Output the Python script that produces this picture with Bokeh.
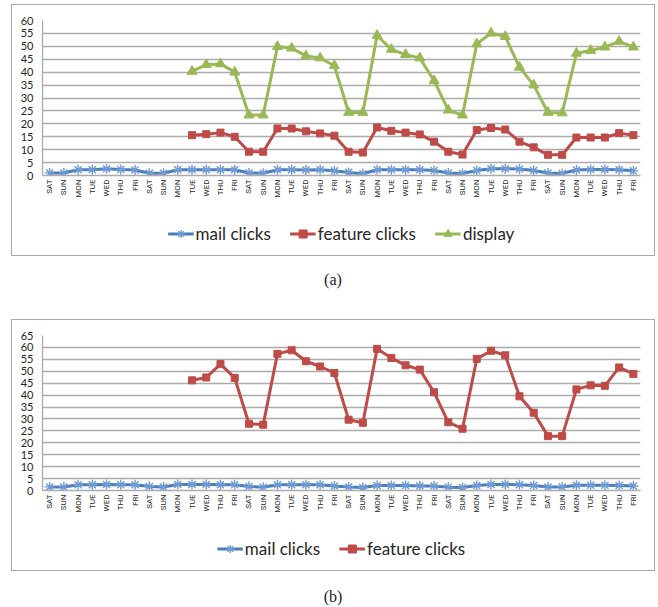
import math
from bokeh.plotting import figure
from bokeh.models import FixedTicker, Legend, LegendItem, Div, Range1d
from bokeh.layouts import column
from bokeh.embed import file_html
from bokeh.resources import INLINE

# ---------------- data ----------------
days = ["SAT", "SUN", "MON", "TUE", "WED", "THU", "FRI"] * 6

N = None
mail_a = [1.0, 1.0, 2.2, 2.2, 2.6, 2.3, 2.1, 0.9, 0.9, 2.2, 2.2, 2.2, 2.2, 2.2,
          1.0, 0.9, 2.2, 2.2, 2.1, 2.2, 1.8, 1.2, 0.7, 2.2, 2.2, 2.2, 2.2, 1.9,
          1.0, 0.8, 1.9, 2.6, 2.6, 2.5, 1.9, 1.0, 0.8, 2.1, 2.3, 2.3, 2.2, 1.8]
feature_a = [N] * 10 + [15.6, 16.0, 16.6, 15.0, 9.2, 9.2, 18.2, 18.2, 17.1, 16.3,
                        15.4, 9.2, 8.9, 18.6, 17.3, 16.6, 15.9, 13.1, 9.2, 8.1,
                        17.6, 18.4, 17.8, 13.1, 10.9, 8.0, 8.0, 14.7, 14.7, 14.7,
                        16.4, 15.6]
display_a = [N] * 10 + [40.3, 42.9, 43.2, 40.0, 23.4, 23.4, 49.9, 49.3, 46.3, 45.5,
                        42.5, 24.4, 24.4, 54.2, 48.8, 46.8, 45.5, 36.7, 25.3, 23.4,
                        50.9, 55.1, 53.8, 41.9, 35.0, 24.4, 24.2, 47.3, 48.4, 49.7,
                        51.9, 49.7]

mail_b = [1.5, 1.5, 2.4, 2.4, 2.5, 2.4, 2.4, 1.7, 1.5, 2.5, 2.5, 2.5, 2.4, 2.4,
          1.7, 1.4, 2.4, 2.4, 2.4, 2.4, 1.9, 1.5, 1.25, 2.1, 2.1, 2.1, 1.9, 1.9,
          1.4, 1.25, 2.1, 2.5, 2.5, 2.4, 2.1, 1.5, 1.5, 2.2, 2.2, 2.2, 2.1, 1.9]
feature_b = [N] * 10 + [46.2, 47.4, 53.0, 47.2, 28.0, 27.6, 57.3, 58.8, 54.2, 52.0,
                        49.3, 29.7, 28.4, 59.4, 55.6, 52.5, 50.7, 41.2, 28.6, 25.9,
                        55.2, 58.6, 56.7, 39.5, 32.6, 22.8, 22.8, 42.4, 44.1, 43.9,
                        51.6, 48.9]

ymax_a, ymax_b = 60, 65
captions = ["(a)", "(b)"]

BLUE, RED, GREEN = "#4A7EBB", "#BE4B48", "#98B954"
ASTER = "#6F9BD6"
GRID = "#ababab"
TEXT = "#262626"
W = 642


def add_series(p, vals, color, marker, size):
    xs = [i for i, v in enumerate(vals) if v is not None]
    ys = [v for v in vals if v is not None]
    lr = p.line(xs, ys, line_color=color, line_width=3)
    if marker == "asterisk":
        sr = p.scatter(xs, ys, marker=marker, size=size, line_color=ASTER, line_width=1.4)
    else:
        sr = p.scatter(xs, ys, marker=marker, size=size, fill_color=color, line_color=color)
    return lr, sr


def make_box(series, ymax):
    p = figure(width=W, height=200, output_backend="svg", toolbar_location=None,
               x_range=Range1d(-0.5, len(days) - 0.5), y_range=Range1d(0, ymax),
               min_border_left=30, min_border_right=14, min_border_top=15,
               min_border_bottom=30)
    p.outline_line_color = None
    p.xgrid.visible = False
    p.ygrid.grid_line_color = GRID
    p.ygrid.grid_line_width = 1.3
    p.ygrid.ticker = FixedTicker(ticks=list(range(0, ymax + 1, 5)))

    p.yaxis.ticker = FixedTicker(ticks=list(range(0, ymax + 1, 5)))
    p.yaxis.axis_line_color = GRID
    p.yaxis.axis_line_width = 1.3
    p.yaxis.major_tick_line_color = None
    p.yaxis.minor_tick_line_color = None
    p.yaxis.major_tick_out = 0
    p.yaxis.major_label_standoff = 9
    p.yaxis.major_label_text_font = "Lato"
    p.yaxis.major_label_text_font_size = "11px"
    p.yaxis.major_label_text_color = TEXT

    p.xaxis.ticker = FixedTicker(ticks=list(range(len(days))))
    p.xaxis.major_label_overrides = {i: d for i, d in enumerate(days)}
    p.xaxis.major_label_orientation = math.pi / 2
    p.xaxis.axis_line_color = GRID
    p.xaxis.axis_line_width = 1.3
    p.xaxis.major_tick_line_color = None
    p.xaxis.minor_tick_line_color = None
    p.xaxis.major_tick_out = 0
    p.xaxis.major_label_standoff = 4
    p.xaxis.major_label_text_font = "Roboto"
    p.xaxis.major_label_text_font_size = "8px"
    p.xaxis.major_label_text_color = TEXT

    for name, vals, color, marker, size in series:
        add_series(p, vals, color, marker, size)

    # legend strip: same series drawn in a range where they are out of view,
    # so that only the legend key is visible
    lg = figure(width=W, height=50, output_backend="svg", toolbar_location=None,
                x_range=Range1d(-0.5, len(days) - 0.5),
                y_range=Range1d(-2 * ymax - 1, -2 * ymax),
                x_axis_location=None, y_axis_location=None,
                min_border_left=0, min_border_right=0, min_border_top=6,
                min_border_bottom=0)
    lg.outline_line_color = None
    lg.grid.visible = False
    items = []
    for name, vals, color, marker, size in series:
        lr, sr = add_series(lg, vals, color, marker, size)
        items.append(LegendItem(label=name, renderers=[lr, sr]))
    legend = Legend(items=items, orientation="horizontal", location="center",
                    glyph_width=26, glyph_height=20, label_standoff=2, spacing=19,
                    padding=0, margin=0, border_line_color=None,
                    background_fill_alpha=0, label_text_font="Lato",
                    label_text_font_size="17px", label_text_color=TEXT)
    lg.add_layout(legend, "center")

    return column(p, lg, styles={"border": "1px solid #a9a9a9"})


def make_caption(text, h, pad):
    return Div(text=f'<div style="width:{W + 2}px;text-align:center;'
                    f'font-family:\'Liberation Serif\';font-size:16px;line-height:18px;'
                    f'color:#222;padding-top:{pad}px">{text}</div>',
               width=W + 2, height=h, margin=0)


box_a = make_box([("mail clicks", mail_a, BLUE, "asterisk", 10),
                  ("feature clicks", feature_a, RED, "square", 7),
                  ("display", display_a, GREEN, "triangle", 10)], ymax_a)
box_b = make_box([("mail clicks", mail_b, BLUE, "asterisk", 10),
                  ("feature clicks", feature_b, RED, "square", 7)], ymax_b)

layout = column(box_a, make_caption(captions[0], 63, 15), box_b,
                make_caption(captions[1], 32, 17), margin=(4, 0, 0, 11))

open("out.html", "w").write(file_html(layout, INLINE))
